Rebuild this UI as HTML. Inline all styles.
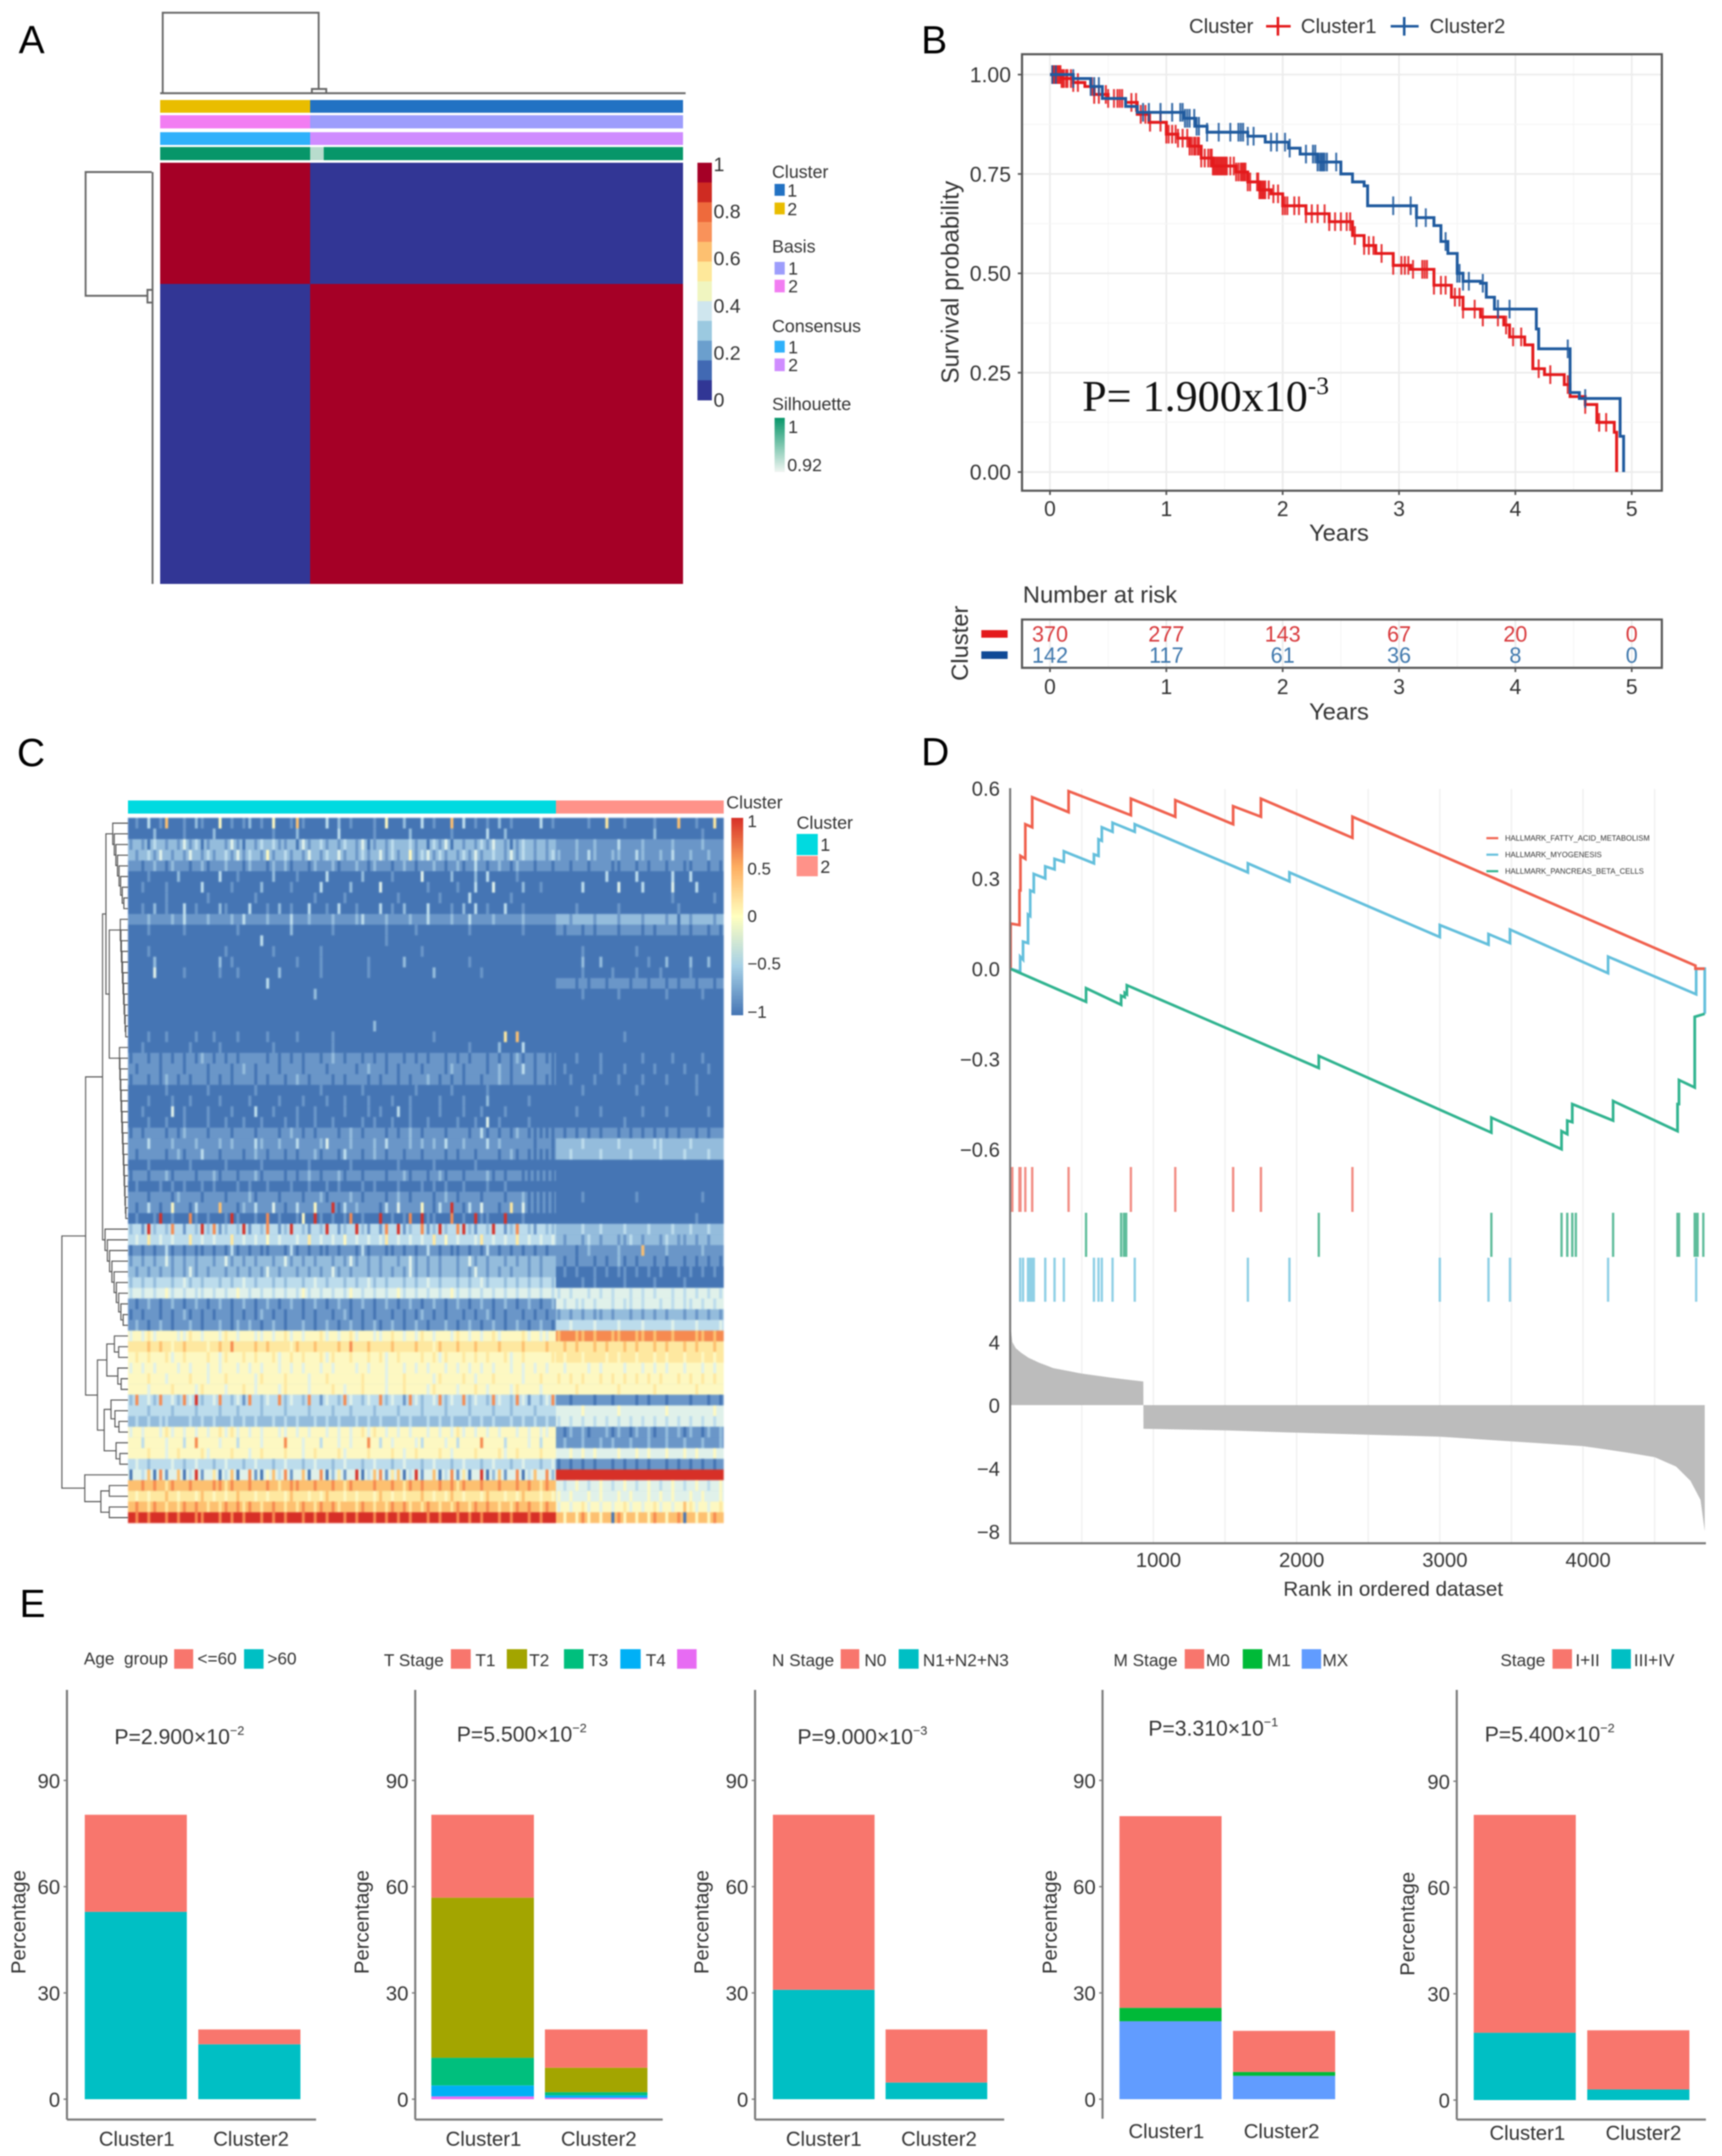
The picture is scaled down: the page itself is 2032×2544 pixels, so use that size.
<!DOCTYPE html>
<html lang="en">
<head>
<meta charset="utf-8">
<title>Cluster analysis figure</title>
<style>
html,body{margin:0;padding:0;background:#fff;}
svg{display:block;filter:blur(0.8px);font-family:"Liberation Sans",sans-serif;}
text{fill:#333;}
.panel{fill:#000;font-size:46px;}
.leg{font-size:21px;}
.lgE{font-size:20.3px;}
.pv{font-size:25px;}
</style>
</head>
<body>
<svg id="fig" xmlns="http://www.w3.org/2000/svg" width="2032" height="2544" viewBox="0 0 2032 2544">
<defs>
<linearGradient id="silG" x1="0" y1="0" x2="0" y2="1"><stop offset="0" stop-color="#079669"/><stop offset="1" stop-color="#f0f5f2"/></linearGradient>
<linearGradient id="heatG" x1="0" y1="1" x2="0" y2="0"><stop offset="0" stop-color="#4575b4"/><stop offset=".25" stop-color="#a6d0e6"/><stop offset=".5" stop-color="#ffffbf"/><stop offset=".75" stop-color="#fdae61"/><stop offset="1" stop-color="#d73027"/></linearGradient>
</defs>
<rect width="2032" height="2544" fill="#fff"/>

<!-- Panel labels -->
<text class="panel" x="22" y="63">A</text>
<text class="panel" x="1087" y="63">B</text>
<text class="panel" x="20" y="904">C</text>
<text class="panel" x="1087" y="903">D</text>
<text class="panel" x="23" y="1908">E</text>

<!-- Panel A -->
<g id="panelA">
  <path d="M192 110V15H376V105M368 110V105H385V110M189 110H809" fill="none" stroke="#666" stroke-width="2.2"/>
  <path d="M179 203H101V349H174M174 342V357H180V342ZM180 203V689" fill="none" stroke="#666" stroke-width="2.2"/>
  <rect x="189" y="118" width="177" height="15" fill="#e9bd00"/>
  <rect x="366" y="118" width="440" height="15" fill="#2272c3"/>
  <rect x="189" y="136" width="177" height="15.5" fill="#f27df2"/>
  <rect x="366" y="136" width="440" height="15.5" fill="#9d9dfc"/>
  <rect x="189" y="156" width="177" height="15" fill="#2fb1fb"/>
  <rect x="366" y="156" width="440" height="15" fill="#cf8cff"/>
  <rect x="189" y="173.5" width="617" height="15.5" fill="#079669"/>
  <rect x="366" y="173.5" width="16" height="15.5" fill="#b8dccd"/>
  <g id="consensusCells"></g>
  <g id="consensusBar"></g>
  <text class="leg" x="911" y="210">Cluster</text>
  <rect x="914" y="217" width="12" height="14" fill="#2272c3"/><text class="leg" x="929" y="232">1</text>
  <rect x="914" y="239" width="12" height="14" fill="#e9bd00"/><text class="leg" x="929" y="254">2</text>
  <text class="leg" x="911" y="298">Basis</text>
  <rect x="914" y="309" width="12" height="15" fill="#9d9dfc"/><text class="leg" x="930" y="324">1</text>
  <rect x="914" y="330" width="12" height="15" fill="#f27df2"/><text class="leg" x="930" y="345">2</text>
  <text class="leg" x="911" y="392">Consensus</text>
  <rect x="914" y="402" width="12" height="14" fill="#2fb1fb"/><text class="leg" x="930" y="417">1</text>
  <rect x="914" y="423" width="12" height="15" fill="#cf8cff"/><text class="leg" x="930" y="438">2</text>
  <text class="leg" x="911" y="484">Silhouette</text>
  <rect x="914" y="493" width="12" height="64" fill="url(#silG)"/>
  <text class="leg" x="930" y="511">1</text>
  <text class="leg" x="929" y="556">0.92</text>
</g>

<!-- Panel B -->
<g id="panelB">
  <text x="1403" y="39" font-size="24">Cluster</text>
  <path d="M1494 31H1523M1508 20V42" stroke="#e41a1c" stroke-width="3" fill="none"/>
  <text x="1535" y="39" font-size="24">Cluster1</text>
  <path d="M1641 31H1674M1657 20V42" stroke="#1f5a9e" stroke-width="3" fill="none"/>
  <text x="1687" y="39" font-size="24">Cluster2</text>
  <g id="kmGrid"></g>
  <g id="kmMarks"></g>
  <rect x="1206" y="64" width="755" height="515" fill="none" stroke="#555" stroke-width="2.5"/>
  <g id="kmAxes"></g>
  <text x="1580" y="638" text-anchor="middle" font-size="28">Years</text>
  <text transform="translate(1131 333) rotate(-90)" text-anchor="middle" font-size="28.5">Survival probability</text>
  <text x="1277" y="485" style="font-family:'Liberation Serif',serif;fill:#111" font-size="52">P= 1.900x10<tspan dy="-20" font-size="30">-3</tspan></text>
  <text x="1207" y="711" font-size="28">Number at risk</text>
  <g id="riskGrid"></g>
  <rect x="1206" y="731" width="755" height="57" fill="none" stroke="#555" stroke-width="2.5"/>
  <g id="riskVals"></g>
  <rect x="1158" y="743.5" width="31" height="9" fill="#e41a1c"/>
  <rect x="1158" y="768.5" width="31" height="9" fill="#0f4a96"/>
  <text transform="translate(1142 759) rotate(-90)" text-anchor="middle" font-size="28">Cluster</text>
  <text x="1580" y="849" text-anchor="middle" font-size="28">Years</text>
</g>

<!-- Panel C -->
<g id="panelC">
  <rect x="151" y="944.5" width="505" height="15.5" fill="#00dae0"/>
  <rect x="656" y="944.5" width="198" height="15.5" fill="#ff9289"/>
  <text class="leg" x="857" y="954">Cluster</text>
  <g id="heatCells"></g>
  <g id="heatDendro"></g>
  <rect x="863" y="965" width="14" height="233" fill="url(#heatG)"/>
  <g id="heatBarLabels"></g>
  <text class="leg" x="940" y="978">Cluster</text>
  <rect x="940" y="984" width="25" height="25" fill="#00dae0"/>
  <text class="leg" x="968" y="1004">1</text>
  <rect x="940" y="1010" width="25" height="24" fill="#ff9289"/>
  <text class="leg" x="968" y="1030">2</text>
</g>

<!-- Panel D -->
<g id="panelD">
  <g id="gseaGrid"></g>
  <g id="gseaScore"></g>
  <g id="gseaRug"></g>
  <g id="gseaLines"></g>
  <g id="gseaAxes"></g>
  <text x="1644" y="1883" text-anchor="middle" font-size="24.3">Rank in ordered dataset</text>
  <line x1="1754" x2="1768" y1="989" y2="989" stroke="#f0604d" stroke-width="2.5"/>
  <text x="1776" y="992" font-size="9">HALLMARK_FATTY_ACID_METABOLISM</text>
  <line x1="1754" x2="1768" y1="1008.5" y2="1008.5" stroke="#63bfdc" stroke-width="2.5"/>
  <text x="1776" y="1011.5" font-size="9">HALLMARK_MYOGENESIS</text>
  <line x1="1754" x2="1768" y1="1028" y2="1028" stroke="#2fb38f" stroke-width="2.5"/>
  <text x="1776" y="1031" font-size="9">HALLMARK_PANCREAS_BETA_CELLS</text>
</g>

<!-- Panel E -->
<g id="panelE">
  <g id="barCharts"></g>

  <text class="lgE" x="99" y="1964" xml:space="preserve">Age  group</text>
  <rect x="205.5" y="1946" width="22.5" height="23" fill="#f8766d"/><text class="lgE" x="233" y="1964">&lt;=60</text>
  <rect x="288" y="1946" width="23" height="23" fill="#00bfc4"/><text class="lgE" x="315.5" y="1964">&gt;60</text>
  <text class="pv" x="135" y="2058">P=2.900×10<tspan dy="-11" font-size="15">−2</tspan></text>

  <text class="lgE" x="453" y="1966">T Stage</text>
  <rect x="532" y="1946" width="23.5" height="23" fill="#f8766d"/><text class="lgE" x="561" y="1966">T1</text>
  <rect x="598" y="1946" width="24" height="23" fill="#a3a500"/><text class="lgE" x="624.5" y="1966">T2</text>
  <rect x="665.5" y="1946" width="23" height="23" fill="#00bf7d"/><text class="lgE" x="694" y="1966">T3</text>
  <rect x="732" y="1946" width="24" height="23" fill="#00b0f6"/><text class="lgE" x="762" y="1966">T4</text>
  <rect x="799" y="1946" width="23" height="23" fill="#e76bf3"/>
  <text class="pv" x="539" y="2055">P=5.500×10<tspan dy="-11" font-size="15">−2</tspan></text>

  <text class="lgE" x="911" y="1966">N Stage</text>
  <rect x="992" y="1946" width="22" height="23" fill="#f8766d"/><text class="lgE" x="1020" y="1966">N0</text>
  <rect x="1060.5" y="1946" width="23.5" height="23" fill="#00bfc4"/><text class="lgE" x="1089" y="1966">N1+N2+N3</text>
  <text class="pv" x="941" y="2058">P=9.000×10<tspan dy="-11" font-size="15">−3</tspan></text>

  <text class="lgE" x="1314" y="1966">M Stage</text>
  <rect x="1398" y="1946" width="23" height="23" fill="#f8766d"/><text class="lgE" x="1423" y="1966">M0</text>
  <rect x="1466.5" y="1946" width="23" height="23" fill="#00ba38"/><text class="lgE" x="1495" y="1966">M1</text>
  <rect x="1536" y="1946" width="23" height="23" fill="#619cff"/><text class="lgE" x="1560.5" y="1966">MX</text>
  <text class="pv" x="1355" y="2048">P=3.310×10<tspan dy="-11" font-size="15">−1</tspan></text>

  <text class="lgE" x="1770.5" y="1966">Stage</text>
  <rect x="1832" y="1946" width="23" height="23" fill="#f8766d"/><text class="lgE" x="1859" y="1966">I+II</text>
  <rect x="1901.5" y="1946" width="23" height="23" fill="#00bfc4"/><text class="lgE" x="1928" y="1966">III+IV</text>
  <text class="pv" x="1752" y="2055">P=5.400×10<tspan dy="-11" font-size="15">−2</tspan></text>
</g>
</svg>

<script>
/* ---------- Panel A data ---------- */
const consensusMatrix = [[1,0],[0,1]];
const consensusPalette = ['#a50026','#cf2b22','#ee6a3c','#f9925a','#fdc070','#fee89a','#f0f5c0','#cfe6ee','#9bc9e0','#6b9fcd','#4169b3','#313695'];
const consensusTicks = [1,0.8,0.6,0.4,0.2,0];

/* ---------- Panel B data ---------- */
const kmYears = [0,1,2,3,4,5];
const kmProbTicks = [0,0.25,0.5,0.75,1];
const kmTimes1 = [0,.1,.2,.3,.38,.5,.65,.75,.85,1,1.1,1.2,1.3,1.4,1.6,1.7,1.8,1.9,2,2.2,2.4,2.6,2.7,2.8,2.95,3.1,3.3,3.45,3.55,3.7,3.9,3.95,4.08,4.15,4.25,4.42,4.47,4.6,4.7,4.85,4.87];
const kmSurv1 = [1,.99,.98,.97,.95,.94,.93,.9,.88,.85,.84,.82,.79,.77,.755,.73,.71,.7,.67,.65,.63,.595,.57,.55,.52,.51,.47,.44,.41,.39,.37,.34,.32,.26,.245,.22,.19,.17,.125,.1,0];
const kmCensor1 = [.02,.03,.04,.05,.06,.07,.08,.09,.1,.11,.12,.14,.15,.18,.2,.24,.36,.38,.42,.48,.5,.55,.58,.6,.62,.7,.74,.78,.82,.86,.95,1,1.02,1.05,1.08,1.1,1.14,1.18,1.2,1.22,1.24,1.25,1.27,1.28,1.3,1.33,1.36,1.38,1.39,1.4,1.41,1.42,1.43,1.44,1.45,1.46,1.47,1.48,1.49,1.5,1.51,1.52,1.55,1.58,1.6,1.62,1.64,1.65,1.66,1.67,1.68,1.7,1.72,1.78,1.79,1.8,1.81,1.82,1.83,1.84,1.85,1.88,1.92,1.96,2,2.02,2.04,2.1,2.14,2.2,2.25,2.3,2.36,2.4,2.45,2.5,2.55,2.58,2.62,2.7,2.74,2.78,2.85,2.95,3.02,3.05,3.08,3.12,3.2,3.22,3.24,3.3,3.36,3.4,3.48,3.52,3.55,3.65,3.72,3.85,3.92,3.98,4.05,4.2,4.3,4.45,4.6,4.72,4.78];
const kmTimes2 = [0,.2,.35,.45,.65,.75,1.15,1.25,1.35,1.7,1.85,2.05,2.15,2.3,2.5,2.6,2.7,2.73,3.15,3.3,3.36,3.42,3.5,3.55,3.7,3.75,3.82,4.18,4.2,4.47,4.55,4.9,4.93];
const kmSurv2 = [1,.99,.97,.94,.92,.905,.89,.87,.855,.845,.83,.815,.8,.78,.75,.73,.72,.67,.64,.62,.58,.55,.5,.48,.475,.44,.41,.36,.31,.2,.185,.09,0];
const kmCensor2 = [.02,.05,.2,.35,.38,.42,.8,.85,.95,1.05,1.12,1.14,1.16,1.18,1.2,1.24,1.26,1.28,1.35,1.45,1.55,1.62,1.64,1.66,1.7,1.75,1.9,1.95,2.02,2.06,2.2,2.26,2.28,2.3,2.32,2.33,2.34,2.35,2.36,2.38,2.46,2.95,3.1,3.15,3.23,3.4,3.5,3.52,3.55,3.6,3.72,3.85,3.95,4.45,4.6];
const riskCluster1 = [370,277,143,67,20,0];
const riskCluster2 = [142,117,61,36,8,0];

/* ---------- Panel C data: colour level 0-9 per cell, cluster 1 columns then cluster 2 columns ---------- */
const heatPalette = ['#4575b4','#6a96c8','#94bcdc','#bcdcec','#e0f1ea','#fdf8c2','#fee8a0','#fdc070','#f68a50','#d73027'];
const heatColorbarTicks = ['1','0.5','0','−0.5','−1'];
const heatLevels = [
"010301700102100501012010500171000302010001050020030100703010102010000301 0000010060010000100070010060",
"000020000100002000000000100020000003000001000002000000100000300200000000 0000000000000000200000001000",
"121032121413012214102132311204123121321401213223120314021213142101321212 1112112111311121111211112111",
"212314212142131231413215123121421324121312413125134131213141232141321213 2112132112211321121311211211",
"110121021101201121102110212011021120112102110121011210120131012102110110 1101101110011010110110011010",
"000100002000000300100000200010000300000200001000040000200020300001000000 0000000030000300000300300000",
"001000100000300001000020000100003000020000400000001000010030040000200100 0000300000400030000400030000",
"000000100000010000000100000000010000100000000100000010000300000010000000 0000000000000000000100000010",
"001020100301000210003001020100300103001000301020003000102030100300100000 0001000000100000000010000000",
"111211121311121112131112111311211121112311121112113111211311121111211111 2212221222122212221202122212",
"000100000100000000100000000200000010000000010000100000000100000000100000 1011010111011101011101011010",
"000000000000000000000030000000000000000000010000000000000000000000000000 0000000000000000000000000000",
"000100000000000010000000100000001000000000000000010000000000000000000000 0000100000000100000000000000",
"000020000000000201000000000010001000000010000020000000000100000000000000 0000200200000001002000200200",
"000040000100000100100000020000001000000010000000000200000001000000000000 0000100001000100010000100000",
"000000000000000000000003000000000000000000000000000000000000000000000000 1110101101110110110101101101",
"000000000000000000000000000000020000000000000000000000000000000000000000 0000100000100000001000001000",
"000000000000000000000000000000000000000000000000000000000000000000000000 0000000000000000000000000000",
"000000000000000000000000000000000000000000000000000000000000000000000000 0000000000000000000000000000",
"000000000000000000000000000000000000000002000000000000000000000000000000 0000000000000000000000000000",
"000100100001001000100001000010000010000000000000000100000000000607000000 0000000000010000000000000000",
"001000000010000100000000100000000010000000000000000000000100002000300000 0000000000000000000000000000",
"011010101010210101011110101010110121011010101101010110101011010102010100 0001000100000010000100001000",
"101110111011101110121011101110111011110121101011101110210111012101310110 0100000100010000100001000100",
"011010210101101010111010110121011101011101011010112101010110112101110100 0010001000100010001000010000",
"000000100000010000000100000000001000000100000000100000100000100000000000 0000100000000100000000010000",
"000100010010000100001000010001000100100010001001000010001000200000010000 0000000000000000000000000000",
"001000040100010001000300100010010000100010100301000010001001000100000000 0001000100000010001000000100",
"000100100100010010010010001010010010000101001001001000010010401000010000 0000000000010000000000000000",
"010111010211101110111011101210101110121011101012101110111013010102100000 1010101011010101010101101011",
"111311121112111212111321121131112411121112131112121213112111312111110110 2222322222322222332222322222",
"101111012011311011101210110101120110311012101101101110101101110120100000 2232222322223222232223222322",
"000100000010000010000010000000100000010000000100000100000010000000000000 0000000000000000000000000000",
"011011201110112011011201110101210112011011101120110120110111201011000000 0000000000000000000000000000",
"010001010100101000101001000100100101000101000100010101001000100100000000 0000000000000000000000000000",
"111011102111011101112011101110112011121011101210111012101110111011200000 0000100000000100000000001000",
"101310151103111711021311410131151190312111031411151031910314110161400000 0000000000000000000000000000",
"010019010081010019100108010015091010180100901018091100801091100900100000 0000000000000000000000010000",
"231923283132928123291328312932132931239213183912381292389213293128321322 2222322322232223222322322322",
"343634343363434336343435343343634343534343463434343635343346343436343434 2122132122113212213211212122",
"010101301010010103010100110301010010110301100101013101001010310101010101 1110121111211171112111112111",
"121212412121221241212122124121212212141212122124121212212412122121212122 1010110101201011010110101010",
"212121212141212212121214212212121241212212121214121212212142121212212122 0101001010110101010010101010",
"232323323423233232343233232332343233232342323323234323323234233232323232 0000101000010000100001000000",
"343434534343343434543434343435343434354343434534343434534343434343434343 3434434343443434344343434343",
"101210121012101210121012101210121012101210121012101210121012101210121012 4343343443433434434343343434",
"010110101201010110101021010110101101201010110101021010110101201011010101 1212121121221212121221212121",
"121012101121011210212101210112101210121012012101210112101210121012101210 3343334333433343333433343334",
"454645554465455465455445456454556454564554456545465455465454564555645445 7887787887788778788788877878",
"666767656766656768666767666576676667686676667666766576676676667666766676 6767667676676766767667676676",
"565655645655565465565655645656556465565565645655565646556565655645655556 6566566656566566565665665656",
"454545554545545455454545545454554545554545545545454554545454545545454545 5455545455545545454554554545",
"555655455565545565555465556555455655555655545565555465556545565555455655 6565655656565656565565656565",
"555455565554655545565455546555455565455655545565554655545565455546555455 5556555555655555655555565555",
"283428342849234832418324382432831432843243824318423482438243284328413248 1101110110111010110111011010",
"333233323332333233233323332333233323323332333233323332333233323323332333 4444544444544444445444444454",
"232323322232323223232322323232232323223232322323223232322323232232323232 3434343434343434343434343434",
"454554645454545646454545544545455454545646545454554545464545454554545445 1021201120210212012120210212",
"553555455358555455355545558554553554545585354555435554535558555355545355 1211211212112112112112112112",
"555655456555645556554565556554565556455565556545655565455565556456555655 4454545444544545445445454454",
"343233343234332343323433234332343323433234332343323433234332343323433234 0101010110101010110101010101",
"043708147039146037048105738147048026149037816703914703816049027148037482 9999999999999999999999999999",
"778787687787778868778778767887787787687778778768787787868778778778787687 4345434543454345434543454345",
"656566765665765656766565665766565766565665765656676565765665766565766565 5454454544545445454544545445",
"787687676878767687868767876768768786776876768786768767687687876768787687 4545645454564545645457645456",
"989899898998899898989989898998989899898998989898998989989898998989989899 7575857570857575875780757587"
];

/* ---------- Panel D data ---------- */
const fattyRanks = [0,3,3,65,65,72,72,106,106,154,154,408,408,843,843,1153,1153,1557,1557,1751,1751,2390,2390,4785,4785,4850];
const fattyValues = [0,0,.15,.145,.26,.26,.375,.365,.48,.47,.57,.52,.59,.51,.565,.505,.56,.48,.54,.505,.565,.435,.505,.01,0,0];
const myoRanks = [0,70,70,90,90,125,125,140,140,165,165,245,245,310,310,375,375,585,585,617,617,640,640,715,715,870,870,1660,1660,1950,1950,3000,3000,3340,3340,3490,3490,4175,4175,4790,4790,4850,4850];
const myoValues = [0,-.01,.04,.03,.09,.085,.18,.175,.26,.255,.315,.3,.34,.33,.365,.355,.39,.35,.38,.375,.43,.425,.47,.455,.485,.455,.48,.32,.35,.29,.32,.105,.145,.08,.115,.085,.13,-.015,.04,-.085,0,0,-.15];
const pancRanks = [0,530,530,775,775,800,800,815,815,2155,2155,3360,3360,3850,3850,3890,3890,3925,3925,4210,4210,4660,4660,4670,4670,4780,4780,4850];
const pancValues = [0,-.11,-.065,-.12,-.09,-.095,-.08,-.085,-.055,-.33,-.29,-.545,-.495,-.6,-.54,-.55,-.505,-.51,-.45,-.505,-.44,-.54,-.45,-.45,-.37,-.395,-.16,-.15];
const fattyHits = [5,15,65,72,106,154,408,843,1153,1557,1751,2390];
const pancHits = [530,775,795,810,2155,3360,3850,3890,3925,3950,4210,4660,4670,4780,4790,4800,4840];
const myoHits = [70,90,125,130,135,140,145,150,155,160,165,245,310,375,585,617,640,715,870,1660,1950,3000,3340,3490,4175,4790];
const scoreRanks = [0,5,15,40,80,130,200,300,500,700,930,931,1500,2000,3000,3500,4000,4300,4500,4650,4750,4820,4850];
const scoreValues = [6.3,4.8,4,3.6,3.3,3,2.7,2.35,2,1.75,1.5,-1.5,-1.6,-1.75,-2,-2.3,-2.6,-3,-3.3,-3.9,-4.8,-6,-8];
const gseaRankTicks = [1000,2000,3000,4000];
const gseaEsTicks = [0.6,0.3,0,-0.3,-0.6];
const gseaScoreTicks = [4,0,-4,-8];

/* ---------- Panel E data: percentage per legend level, [Cluster1, Cluster2] ---------- */
const clusterNames = ['Cluster1','Cluster2'];
const pctTicks = [0,30,60,90];
const ageLe60 = [27.4,4.2];
const ageGt60 = [52.9,15.5];
const tT1 = [23.4,10.8];
const tT2 = [45.2,6.9];
const tT3 = [7.8,0.9];
const tT4 = [3.1,0.7];
const tTx = [0.8,0.4];
const nN0 = [49.4,15];
const nN123 = [30.9,4.7];
const mM0 = [54.1,11.6];
const mM1 = [3.8,1.1];
const mMX = [22,6.6];
const stageEarly = [61.5,16.7];
const stageLate = [19,3];

/* ---------- helpers ---------- */
const NS = 'http://www.w3.org/2000/svg';
function mk(tag, attrs, parent, txt) {
  const e = document.createElementNS(NS, tag);
  for (const k in attrs) e.setAttribute(k, attrs[k]);
  if (txt !== undefined) e.textContent = txt;
  parent.appendChild(e);
  return e;
}
const $ = id => document.getElementById(id);

/* ---------- Panel A ---------- */
(function () {
  const colX = [189, 366, 806], rowY = [192, 335, 689];
  const g = $('consensusCells');
  consensusMatrix.forEach((row, i) => row.forEach((v, j) => {
    const r = mk('rect', {x: colX[j], y: rowY[i], width: colX[j+1]-colX[j], height: rowY[i+1]-rowY[i], fill: v > 0.5 ? '#a50026' : '#323695'}, g);
    
    
  }));
  const b = $('consensusBar'), top = 192, h = 280 / consensusPalette.length;
  consensusPalette.forEach((c, i) => {
    const r = mk('rect', {x: 823, y: top + i*h, width: 17, height: h + .4, fill: c}, b);
    
    
  });
  consensusTicks.forEach(v => {
    const t = mk('text', {x: 842, y: 472 - v*278 + 8, 'font-size': 23}, b, String(v));
    
    
  });
})();

/* ---------- Panel B ---------- */
(function () {
  const kx = t => 1239 + t*137.3, ky = s => 557 - s*469;
  const grid = $('kmGrid'), axes = $('kmAxes'), riskG = $('riskGrid'), riskV = $('riskVals');
  kmYears.forEach((t, i) => {
    [[grid,64,579],[riskG,731,788]].forEach(([p,a,b]) => {
      const l = mk('line', {x1: kx(t), x2: kx(t), y1: a, y2: b, stroke: '#ececec', 'stroke-width': 2}, p);
      
      
      if (i < kmYears.length - 1) {
        const m = mk('line', {x1: kx(t+.5), x2: kx(t+.5), y1: a, y2: b, stroke: '#f5f5f5', 'stroke-width': 1.2}, p);
        
        
      }
    });
    [[579,600+9],[788,810+9]].forEach(([edge,base]) => {
      const tk = mk('line', {x1: kx(t), x2: kx(t), y1: edge, y2: edge+5, stroke: '#555', 'stroke-width': 2}, axes);
      
      
      const lb = mk('text', {x: kx(t), y: base, 'text-anchor': 'middle', 'font-size': 25}, axes, String(t));
      
      
    });
    const a = mk('text', {x: kx(t), y: 757, 'text-anchor': 'middle', 'font-size': 25.5, style: 'fill:#d8383b'}, riskV, String(riskCluster1[i]));
    
    
    const c = mk('text', {x: kx(t), y: 782, 'text-anchor': 'middle', 'font-size': 25.5, style: 'fill:#3f78ad'}, riskV, String(riskCluster2[i]));
    
    
  });
  kmProbTicks.forEach((v, i) => {
    const l = mk('line', {x1: 1206, x2: 1961, y1: ky(v), y2: ky(v), stroke: '#ececec', 'stroke-width': 2}, grid);
    
    
    if (i < kmProbTicks.length - 1) {
      const m = mk('line', {x1: 1206, x2: 1961, y1: ky(v+.125), y2: ky(v+.125), stroke: '#f5f5f5', 'stroke-width': 1.2}, grid);
      
      
    }
    const tk = mk('line', {x1: 1201, x2: 1206, y1: ky(v), y2: ky(v), stroke: '#555', 'stroke-width': 2}, axes);
    
    
    const lb = mk('text', {x: 1193, y: ky(v)+9, 'text-anchor': 'end', 'font-size': 25}, axes, v.toFixed(2));
    
    
  });
  function curve(times, surv, censor, color, name) {
    let d = 'M' + kx(times[0]) + ' ' + ky(surv[0]);
    for (let i = 1; i < times.length; i++) d += 'H' + kx(times[i]) + 'V' + ky(surv[i]);
    const at = t => { let s = surv[0]; for (let i = 0; i < times.length; i++) if (times[i] <= t) s = surv[i]; return s; };
    censor.forEach(t => {
      const m = mk('line', {x1: kx(t), x2: kx(t), y1: ky(at(t))-11, y2: ky(at(t))+11, stroke: color, 'stroke-width': 2.4, opacity: .85}, $('kmMarks'));
      
      
    });
    const p = mk('path', {d: d, fill: 'none', stroke: color, 'stroke-width': 3.4}, $('kmMarks'));
    
    
  }
  curve(kmTimes1, kmSurv1, kmCensor1, '#e41a1c', 'cluster1');
  curve(kmTimes2, kmSurv2, kmCensor2, '#1f5a9e', 'cluster2');
})();

/* ---------- Panel C ---------- */
(function () {
  const g = $('heatCells');
  g.style.filter = 'blur(0.7px)';
  const left = 151, split = 656, right = 854, top = 965, bottom = 1797;
  const base = mk('rect', {x: left, y: top, width: right-left, height: bottom-top, fill: heatPalette[0]}, g);
  
  
  const rowH = (bottom-top) / heatLevels.length;
  const rowCenter = i => top + (i+.5)*rowH;
  heatLevels.forEach((row, i) => {
    const parts = row.split(' ');
    [[parts[0],left,split,72],[parts[1],split,right,28]].forEach(([s,x0,x1,n]) => {
      const w = (x1-x0)/n;
      const sorted = s.split('').map(Number).sort((a,b) => a-b);
      const median = sorted[sorted.length >> 1];
      const band = mk('rect', {x: x0, y: top+i*rowH, width: x1-x0, height: rowH+.2, fill: heatPalette[median]}, g);
      
      
      for (let c = 0; c < Math.min(n, s.length); c++) {
        const lv = +s[c];
        if (lv === median) continue;
        const cell = mk('rect', {x: x0+c*w+w*.25, y: top+i*rowH, width: w*.5, height: rowH+.2, fill: heatPalette[lv]}, g);
        
        
      }
    });
  });
  // row dendrogram: nodes are [distance, left, right], leaves are row indices
  const ladder = (a, b, h0, h1) => a === b ? a : [h0, a, ladder(a+1, b, h0+(h1-h0)*1/(b-a), h1)];
  const tree = [78,
    [50,
      [30,
        [26, ladder(0,8,18,3), [22, ladder(9,20,9,2), ladder(21,37,10,2)]],
        ladder(38,47,27,3)],
      [36,
        [25, ladder(48,50,16,6), ladder(51,53,12,4)],
        [28, ladder(54,57,20,6), ladder(58,60,14,5)]]],
    [51, 61, [32, [22,62,63], [22,64,65]]]];
  const dg = $('heatDendro');
  function draw(n) {
    if (typeof n === 'number') return {x: left, y: rowCenter(n)};
    const a = draw(n[1]), b = draw(n[2]), x = left - n[0];
    const p = mk('path', {d: `M${a.x} ${a.y}H${x}V${b.y}H${b.x}`, fill: 'none', stroke: '#555', 'stroke-width': 1.3}, dg);
    
    
    return {x: x, y: (a.y+b.y)/2};
  }
  draw(tree);
  const by = 969, step = 56;
  heatColorbarTicks.forEach((t, i) => {
    const l = mk('text', {x: 882, y: by + i*step + 7 + (i>3?1:0), 'font-size': 20}, $('heatBarLabels'), t);
    
    
  });
})();

/* ---------- Panel D ---------- */
(function () {
  const rx = r => 1192 + r*.169;
  const ey = v => 1143 - v*355;
  const sy = v => 1658 - v*18.6;
  const grid = $('gseaGrid'), ax = $('gseaAxes');
  [500,1000,1500,2000,2500,3000,3500,4000,4500].forEach(r => {
    const l = mk('line', {x1: rx(r), x2: rx(r), y1: 931, y2: 1820, stroke: '#f0f0f0', 'stroke-width': 1.6}, grid);
    
    
  });
  let d = 'M' + rx(scoreRanks[0]) + ' ' + sy(0);
  scoreRanks.forEach((r, i) => { d += 'L' + rx(r) + ' ' + sy(scoreValues[i]); });
  d += 'L' + rx(scoreRanks[scoreRanks.length-1]) + ' ' + sy(0) + 'Z';
  const area = mk('path', {d: d, fill: '#bcbcbc'}, $('gseaScore'));
  
  
  [[fattyHits,1377,1430,'#f28d84','fatty'],[pancHits,1431,1483,'#5fbd9b','pancreas'],[myoHits,1484,1536,'#8fd0e6','myogenesis']].forEach(([hits,a,b,c,n]) => {
    hits.forEach(r => {
      const l = mk('line', {x1: rx(r), x2: rx(r), y1: a, y2: b, stroke: c, 'stroke-width': 2.8}, $('gseaRug'));
      
      
    });
  });
  [[myoRanks,myoValues,'#63bfdc','myogenesis'],[fattyRanks,fattyValues,'#f0604d','fatty-acid'],[pancRanks,pancValues,'#2fb38f','pancreas-beta']].forEach(([rs,vs,c,n]) => {
    const pts = rs.map((r,i) => rx(r)+','+ey(vs[i])).join(' ');
    const p = mk('polyline', {points: pts, fill: 'none', stroke: c, 'stroke-width': 3.2}, $('gseaLines'));
    
    
  });
  const axisPath = mk('path', {d: 'M1192 930V1821H2013', fill: 'none', stroke: '#777', 'stroke-width': 2.4}, ax);
  
  
  gseaRankTicks.forEach(r => {
    const t = mk('text', {x: rx(r) + 6, y: 1849, 'text-anchor': 'middle', 'font-size': 24}, ax, String(r));
    
    
  });
  gseaEsTicks.forEach(v => {
    const t = mk('text', {x: 1180, y: ey(v)+9, 'text-anchor': 'end', 'font-size': 24}, ax, (v<0?'−':'') + Math.abs(v).toFixed(1));
    
    
  });
  gseaScoreTicks.forEach(v => {
    const t = mk('text', {x: 1180, y: sy(v)+9, 'text-anchor': 'end', 'font-size': 24}, ax, (v<0?'−':'') + Math.abs(v));
    
    
  });
})();

/* ---------- Panel E ---------- */
function stackedChart(c) {
  const g = $('barCharts');
  const y = v => c.y0 - v*c.unit;
  const xs = c.bars;
  // stack bottom-up in reverse legend order
  [0,1].forEach(k => {
    let acc = 0;
    for (let s = c.series.length - 1; s >= 0; s--) {
      const v = c.series[s][k];
      const r = mk('rect', {x: xs[k], y: y(acc+v), width: c.barW, height: v*c.unit, fill: c.colors[s]}, g);
      
      
      acc += v;
    }
    const t = mk('text', {x: xs[k] + c.barW/2 + c.labelDx[k], y: c.labelY, 'text-anchor': 'middle', 'font-size': 24}, g, clusterNames[k]);
    
    
  });
  const yAxis = mk('line', {x1: c.ax, x2: c.ax, y1: 1994, y2: c.axB, stroke: '#777', 'stroke-width': 2.4}, g);
  
  
  if (c.axEnd) {
    const xAxis = mk('line', {x1: c.ax, x2: c.axEnd, y1: c.axB, y2: c.axB, stroke: '#777', 'stroke-width': 2.4}, g);
    
    
  }
  pctTicks.forEach(v => {
    const tk = mk('line', {x1: c.ax-4, x2: c.ax, y1: y(v), y2: y(v), stroke: '#777', 'stroke-width': 1.6}, g);
    
    
    const t = mk('text', {x: c.ax-8, y: y(v)+9, 'text-anchor': 'end', 'font-size': 24}, g, String(v));
    
    
  });
  const yt = mk('text', {transform: `translate(${c.titleX} ${c.titleY}) rotate(-90)`, 'text-anchor': 'middle', 'font-size': 24}, g, 'Percentage');
  
  
}
stackedChart({id:'age', series:[ageLe60,ageGt60], colors:['#f8766d','#00bfc4'], y0:2477, unit:4.18, bars:[100,234], barW:120.5, ax:79, axEnd:373, axB:2501, labelY:2532, titleX:30, titleY:2268, labelDx:[1,2]});
stackedChart({id:'t-stage', series:[tT1,tT2,tT3,tT4,tTx], colors:['#f8766d','#a3a500','#00bf7d','#00b0f6','#e76bf3'], y0:2477, unit:4.18, bars:[509,643], barW:121, ax:490, axEnd:782, axB:2501, labelY:2532, titleX:435, titleY:2268, labelDx:[1,3]});
stackedChart({id:'n-stage', series:[nN0,nN123], colors:['#f8766d','#00bfc4'], y0:2477, unit:4.18, bars:[912,1045], barW:120, ax:891, axEnd:1185, axB:2501, labelY:2532, titleX:836, titleY:2268, labelDx:[0,3]});
stackedChart({id:'m-stage', series:[mM0,mM1,mMX], colors:['#f8766d','#00ba38','#619cff'], y0:2477, unit:4.18, bars:[1321,1455], barW:120.5, ax:1301, axEnd:0, axB:2500, labelY:2523, titleX:1247, titleY:2268, labelDx:[-5,-3]});
stackedChart({id:'stage', series:[stageEarly,stageLate], colors:['#f8766d','#00bfc4'], y0:2478, unit:4.18, bars:[1739,1873], barW:120.5, ax:1719, axEnd:2013, axB:2501, labelY:2525, titleX:1669, titleY:2270, labelDx:[3,6]});
</script>
</body>
</html>
